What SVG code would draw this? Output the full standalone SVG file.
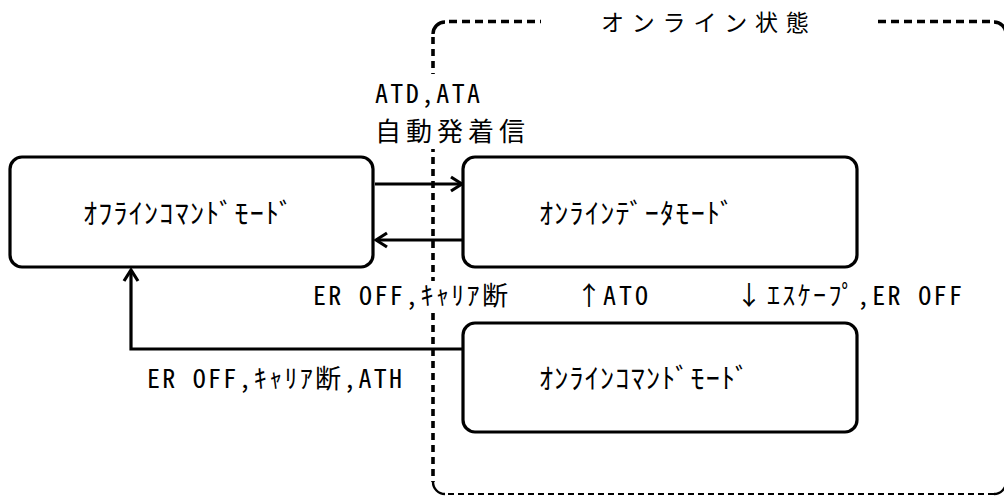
<svg xmlns="http://www.w3.org/2000/svg" width="1004" height="496" viewBox="0 0 1004 496">
<style>
.box{fill:#fff;stroke:#000;stroke-width:3.2}
.lbl{font-family:"Noto Sans Mono CJK JP","Liberation Mono","Noto Sans CJK JP",monospace;font-size:26px;fill:#000}
.node{font-family:"Noto Sans Mono CJK JP","Liberation Mono","Noto Sans CJK JP",monospace;font-size:28px;fill:#000}
.title{font-family:"Noto Sans CJK JP",sans-serif;font-size:23px;letter-spacing:7.8px;fill:#000}
.con{fill:none;stroke:#000;stroke-width:3.2}
.cont{fill:none;stroke:#000}
</style>
<defs>
<marker id="arr" viewBox="-14 -10 16 20" refX="0" refY="0" markerWidth="16" markerHeight="20" markerUnits="userSpaceOnUse" orient="auto">
<path d="M-11,-7 L0,0 L-11,7" fill="none" stroke="#000" stroke-width="3.2"/>
</marker>
</defs>
<rect width="1004" height="496" fill="#fff"/>
<g id="online-state">
<path class="cont" d="M433,34 A12,12 0 0 1 445,22" stroke-width="3.4"/>
<path class="cont" d="M449,21.5 H541" stroke-width="3.4" stroke-dasharray="8 5"/>
<path class="cont" d="M878,21.5 H995" stroke-width="3.4" stroke-dasharray="8 5"/>
<path class="cont" d="M994,22 A12,12 0 0 1 1006,34" stroke-width="3.4"/>
<path class="cont" d="M433,37 V482" stroke-width="3.6" stroke-dasharray="7 5"/>
<path class="cont" d="M433,482 A12,12 0 0 0 445,494" stroke-width="2.4"/>
<path class="cont" d="M448,494 H994" stroke-width="2" stroke-dasharray="6 4"/>
<path class="cont" d="M994,494 A12,12 0 0 0 1006,482" stroke-width="2.4"/>
<text class="title" x="601" y="31">オンライン状態</text>
</g>
<g id="connectors">
<line class="con" x1="375" y1="184" x2="462" y2="184" marker-end="url(#arr)"/>
<line class="con" x1="462" y1="240" x2="376" y2="240" marker-end="url(#arr)"/>
<path class="con" d="M463,349 H131 V270" marker-end="url(#arr)"/>
</g>
<g id="labels">
<rect x="370" y="74" width="154" height="75" fill="#fff"/>
<text class="lbl" x="375" y="103" textLength="105" lengthAdjust="spacing">ATD,ATA</text>
<text class="lbl" x="375" y="141" textLength="150" lengthAdjust="spacing">自動発着信</text>
<rect x="310" y="281" width="200" height="30" fill="#fff"/>
<text class="lbl" x="313" y="305" textLength="195" lengthAdjust="spacing">ER OFF,ｷｬﾘｱ断</text>
<text class="lbl" x="576" y="305">↑</text>
<text class="lbl" x="603" y="305" textLength="45" lengthAdjust="spacing">ATO</text>
<text class="lbl" x="736" y="305">↓</text>
<text class="lbl" x="767" y="305" textLength="195" lengthAdjust="spacing">ｴｽｹｰﾌﾟ,ER OFF</text>
<text class="lbl" x="147" y="388" textLength="255" lengthAdjust="spacing">ER OFF,ｷｬﾘｱ断,ATH</text>
</g>
<g id="offline-command-mode">
<rect class="box" x="10" y="157" width="363" height="110" rx="12"/>
<text class="node" x="83" y="224" textLength="210" lengthAdjust="spacing">ｵﾌﾗｲﾝｺﾏﾝﾄﾞﾓｰﾄﾞ</text>
</g>
<g id="online-data-mode">
<rect class="box" x="463" y="157" width="394" height="110" rx="12"/>
<text class="node" x="539" y="224" textLength="195" lengthAdjust="spacing">ｵﾝﾗｲﾝﾃﾞｰﾀﾓｰﾄﾞ</text>
</g>
<g id="online-command-mode">
<rect class="box" x="463" y="323" width="394" height="109" rx="12"/>
<text class="node" x="539" y="389" textLength="210" lengthAdjust="spacing">ｵﾝﾗｲﾝｺﾏﾝﾄﾞﾓｰﾄﾞ</text>
</g>
</svg>
